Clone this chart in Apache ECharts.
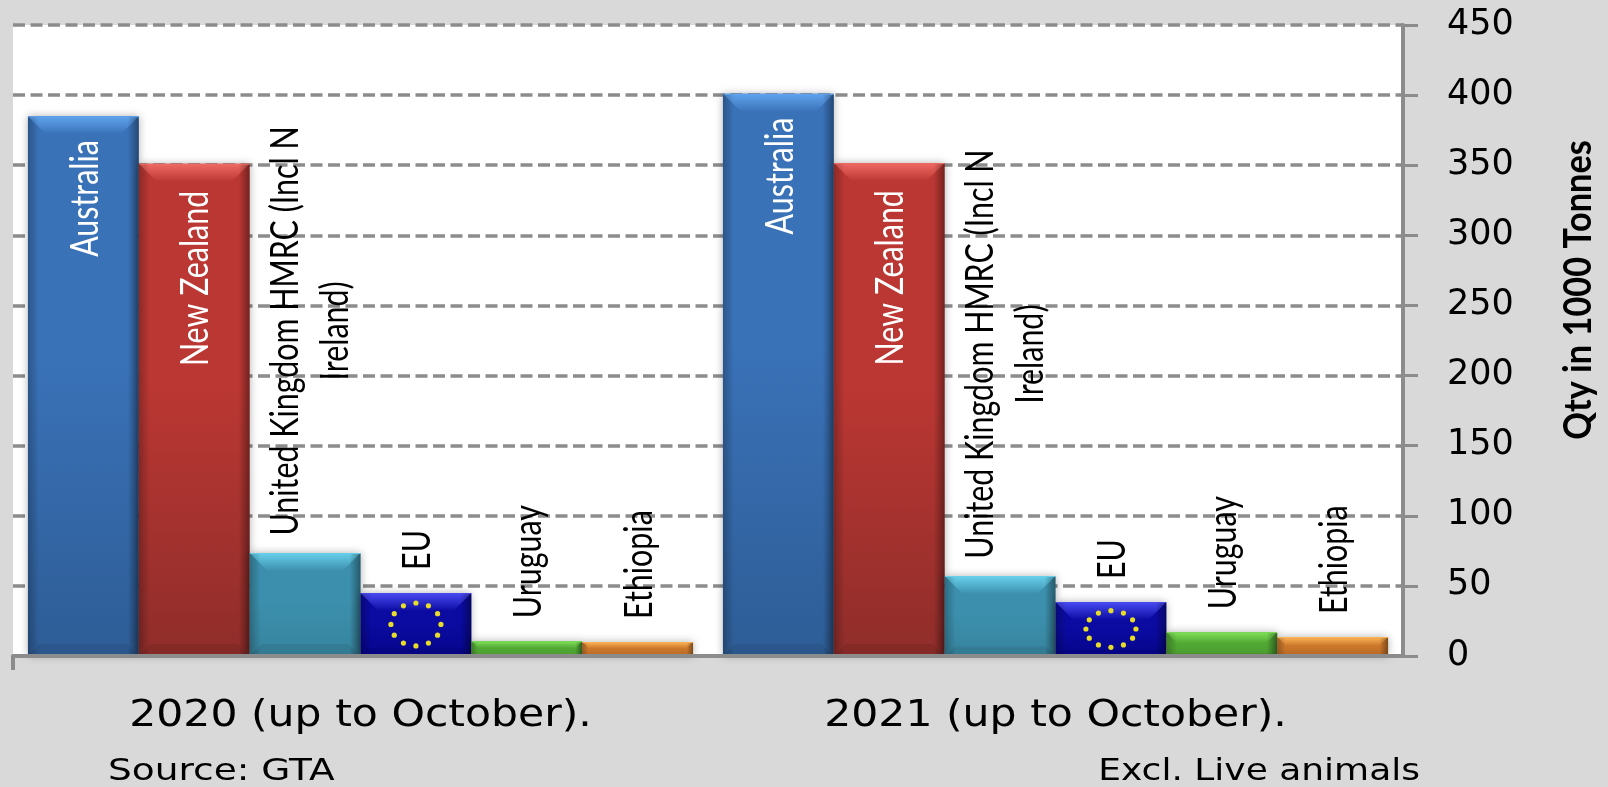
<!DOCTYPE html>
<html>
<head>
<meta charset="utf-8">
<title>Imports</title>
<style>
html, body { margin: 0; padding: 0; background: #d9d9d9; }
#main { width: 1608px; height: 787px; }
</style>
<script src="https://cdn.jsdelivr.net/npm/echarts@6/dist/echarts.min.js"></script>
</head>
<body>
<div id="main"></div>
<script>
// data, in 1000 tonnes
var periods = ['2020 (up to October).', '2021 (up to October).'];
var countries = ['Australia', 'New Zealand', 'United Kingdom HMRC (Incl N\nIreland)', 'EU', 'Uruguay', 'Ethiopia'];
var australia = [385, 401];
var newZealand = [351, 351.5];
var unitedKingdom = [73.5, 57];
var eu = [45, 38.5];
var uruguay = [10.5, 17];
var ethiopia = [10, 13.5];
var yTicks = [0, 50, 100, 150, 200, 250, 300, 350, 400, 450];

var values = [australia, newZealand, unitedKingdom, eu, uruguay, ethiopia];
// base colours top / bottom, bevel highlight
var baseColors = [
    ['#3a72b8', '#2e5d96'],
    ['#bb3733', '#8f2d2a'],
    ['#3c90ad', '#37849e'],
    ['#0b0ba2', '#05058c'],
    ['#52a934', '#4a9c2e'],
    ['#cc782c', '#b96a26']
];
var lightColors = ['#5fa4ee', '#f06a64', '#68d0ec', '#4a4cf2', '#7fe25a', '#ffb557'];
var barShare = 0.1595;
var labelFont = '38px Lato, sans-serif';

function grad(x2, y2, from, to) {
    return { type: 'linear', x: 0, y: 0, x2: x2, y2: y2, colorStops: [{ offset: 0, color: from }, { offset: 1, color: to }] };
}

var barSeries = countries.map(function (name, i) {
    return {
        name: name,
        type: 'bar',
        barWidth: (barShare * 100) + '%',
        barGap: '0%',
        data: values[i],
        itemStyle: {
            color: {
                type: 'linear', x: 0, y: 0, x2: 0, y2: 1,
                colorStops: [{ offset: 0, color: baseColors[i][0] }, { offset: 0.45, color: baseColors[i][0] }, { offset: 1, color: baseColors[i][1] }]
            },
            shadowBlur: 8,
            shadowColor: 'rgba(0,0,0,0.3)'
        }
    };
});

// bevels, EU stars and the squeezed labels, on top of the bars
var overlayData = [];
values.forEach(function (row, i) {
    row.forEach(function (v, c) { overlayData.push([c, v, i]); });
});

function renderOverlay(params, api) {
    var item = overlayData[params.dataIndex];
    var idx = item[2];
    var top = api.coord([item[0], item[1]]);
    var bottom = api.coord([item[0], 0]);
    var w = api.size([1, 0])[0] * barShare;
    var x0 = top[0] + (idx - 2.5) * w - w / 2;
    var x1 = x0 + w;
    var y0 = top[1], y1 = bottom[1];
    var h = y1 - y0;
    var t = Math.min(18, h * 0.45);
    var b = Math.min(12, h * 0.12);
    var s = Math.min(11, t);
    var cx = (x0 + x1) / 2;
    var kids = [
        { type: 'polygon', shape: { points: [[x0, y0], [x1, y0], [x1 - t, y0 + t], [x0 + t, y0 + t]] },
          style: { fill: grad(0, 1, lightColors[idx], baseColors[idx][0]) } },
        { type: 'polygon', shape: { points: [[x0, y1], [x1, y1], [x1 - b, y1 - b], [x0 + b, y1 - b]] },
          style: { fill: 'rgba(0,0,0,0.07)' } },
        { type: 'rect', shape: { x: x0, y: y0 + 1, width: s, height: h - 1 },
          style: { fill: grad(1, 0, 'rgba(0,0,0,0.25)', 'rgba(0,0,0,0)') } },
        { type: 'rect', shape: { x: x1 - s, y: y0 + 1, width: s, height: h - 1 },
          style: { fill: grad(1, 0, 'rgba(0,0,0,0)', 'rgba(0,0,0,0.38)') } }
    ];
    if (countries[idx] === 'EU') {
        var cy = y0 + h * 0.5;
        for (var k = 0; k < 12; k++) {
            var a = k * Math.PI / 6;
            kids.push({ type: 'circle',
                shape: { cx: cx + 25 * Math.sin(a), cy: cy - h * 0.34 * Math.cos(a), r: 2.6 },
                style: { fill: '#e8dc2a' } });
        }
    }
    var isTall = idx < 2, isUk = idx === 2;
    kids.push({
        type: 'text',
        x: cx + (isUk ? 6 : 2),
        y: isTall ? y0 + (idx === 1 ? 27 : 24) : (isUk ? y0 - 222 : y0 - 23),
        rotation: Math.PI / 2,
        scaleX: 0.8,
        style: {
            text: countries[idx],
            align: isUk ? 'center' : (isTall ? 'right' : 'left'),
            verticalAlign: 'middle',
            lineHeight: 50,
            fill: isTall ? '#fff' : '#000',
            font: labelFont
        }
    });
    // period captions under each group, the wide face of the original
    if (idx === 0) {
        kids.push({
            type: 'text',
            x: api.coord([item[0], 0])[0],
            y: y1 + 60,
            scaleX: 1.12,
            style: { text: periods[item[0]], align: 'center', verticalAlign: 'middle', fill: '#000', font: '38px "DejaVu Sans"' }
        });
    }
    // the one tick under the left end of the axis
    if (params.dataIndex === 0) {
        kids.push({
            type: 'line',
            shape: { x1: top[0] - api.size([1, 0])[0] / 2, y1: y1, x2: top[0] - api.size([1, 0])[0] / 2, y2: y1 + 14 },
            style: { stroke: '#8c8c8c', lineWidth: 4 }
        });
    }
    return { type: 'group', children: kids, silent: true };
}

var myChart = echarts.init(document.getElementById('main'));

var option = {
    backgroundColor: '#d9d9d9',
    animation: false,
    grid: { left: 13, right: 205, top: 25, bottom: 131, show: true, backgroundColor: '#fff', borderWidth: 0 },
    xAxis: {
        type: 'category',
        data: periods,
        z: 5,
        axisLine: { lineStyle: { color: '#8c8c8c', width: 4 } },
        axisTick: { show: false },
        axisLabel: { show: false }
    },
    yAxis: {
        type: 'value',
        position: 'right',
        min: 0,
        max: yTicks[yTicks.length - 1],
        interval: yTicks[1],
        axisLine: { show: true, lineStyle: { color: '#8c8c8c', width: 4 } },
        axisTick: { show: true, length: 15, lineStyle: { color: '#8c8c8c', width: 3 } },
        axisLabel: { color: '#000', fontFamily: '"DejaVu Sans"', fontSize: 35, margin: 44, verticalAlign: 'top', padding: [-18, 0, 0, 0] },
        splitLine: { show: true, lineStyle: { color: '#8c8c8c', width: 3.5, type: [12, 5.5] } }
    },
    graphic: [
        { type: 'text', x: 108, y: 772, scaleX: 1.25,
          style: { text: 'Source: GTA', fill: '#000', verticalAlign: 'middle', font: '30px "DejaVu Sans"' } },
        { type: 'text', x: 1420, y: 772, scaleX: 1.2,
          style: { text: 'Excl. Live animals', fill: '#000', align: 'right', verticalAlign: 'middle', font: '30px "DejaVu Sans"' } },
        { type: 'text', x: 1578, y: 290, rotation: Math.PI / 2, scaleX: 0.88,
          style: { text: 'Qty in 1000 Tonnes', fill: '#000', align: 'center', verticalAlign: 'middle', font: 'bold 39px Lato' } }
    ],
    series: barSeries.concat([{
        type: 'custom',
        renderItem: renderOverlay,
        data: overlayData,
        encode: { x: 0, y: 1 },
        z: 3,
        clip: false,
        silent: true
    }])
};

myChart.setOption(option);
</script>
</body>
</html>
